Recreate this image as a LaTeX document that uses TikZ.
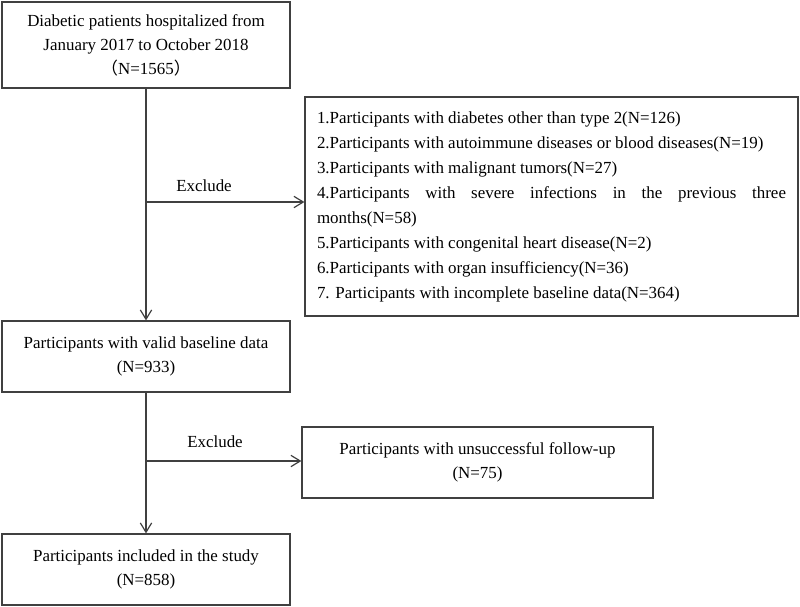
\documentclass[tikz,border=0pt]{standalone}
\usepackage{fontspec}
\setmainfont{Liberation Serif}
\newfontfamily\cjk{Noto Sans CJK SC}
\usetikzlibrary{arrows.meta,positioning,calc}

\begin{document}
\begin{tikzpicture}[
    x=0.75pt, y=-0.75pt,
    every node/.style={font=\fontsize{12.7}{18}\selectfont},
    box/.style={rectangle, draw=black!75, line width=0.9pt, minimum width=216pt, minimum height=53.25pt, align=center, inner sep=0pt},
    flow/.style={draw=black!75, line width=0.9pt, -{Straight Barb[length=7pt, width=8.5pt]}},
]
    \useasboundingbox (0,0) rectangle (800,607);

    % Main column
    \node[box, minimum height=64.5pt] (cohort) at (146,45) {Diabetic patients hospitalized from\\January 2017 to October 2018\\{\cjk （}N=1565{\cjk ）}};
    \node[box] (valid) at (146,356.5) {Participants with valid baseline data\\(N=933)};
    \node[box] (included) at (146,569.5) {Participants included in the study\\(N=858)};

    % Exclusion boxes
    \node[box, minimum width=369.75pt, minimum height=164.25pt, font=\fontsize{12.7}{18.75}\selectfont] (excl1) at (551.5,206.5) {%
        \parbox{351.75pt}{\raggedright
        1.Participants with diabetes other than type 2(N=126)\\
        2.Participants with autoimmune diseases or blood diseases(N=19)\\
        3.Participants with malignant tumors(N=27)\\
        \makebox[\linewidth][s]{4.Participants with severe infections in the previous three}\\
        months(N=58)\\
        5.Participants with congenital heart disease(N=2)\\
        6.Participants with organ insufficiency(N=36)\\
        7. Participants with incomplete baseline data(N=364)}%
    };
    \node[box, minimum width=263.25pt] (excl2) at (477.5,462.5) {Participants with unsuccessful follow-up\\(N=75)};

    % Branch points
    \coordinate (split1) at (146,202);
    \coordinate (split2) at (146,461);

    % Connectors
    \draw[flow] (cohort) -- (valid);
    \draw[flow] (valid) -- (included);
    \draw[flow] (split1) -- (split1 -| excl1.west);
    \draw[flow] (split2) -- (split2 -| excl2.west);

    % Labels
    \node (label1) at (204,186) {Exclude};
    \node (label2) at (215,442) {Exclude};
\end{tikzpicture}
\end{document}
